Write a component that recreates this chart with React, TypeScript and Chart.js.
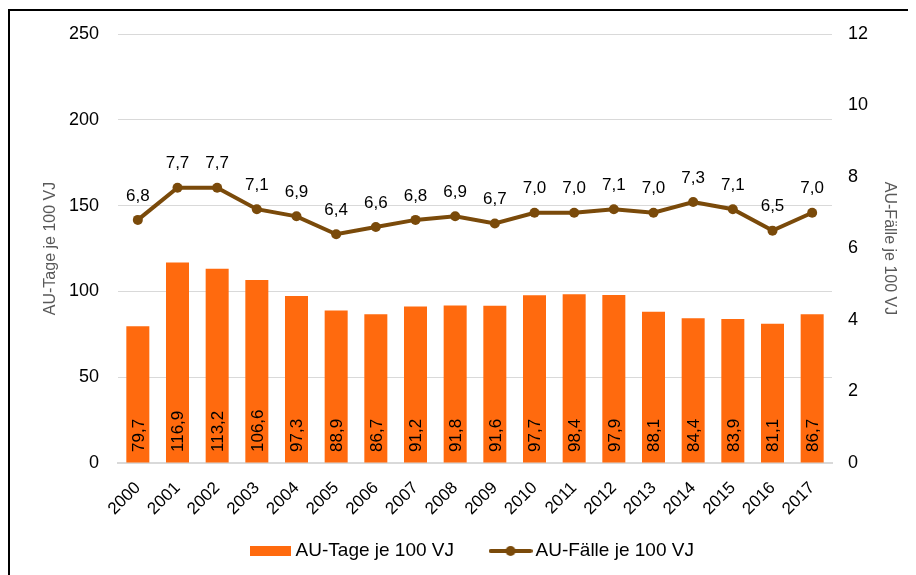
import React, { useEffect, useRef } from "react";
import { Chart, registerables } from "chart.js";

Chart.register(...registerables);

const years = ["2000","2001","2002","2003","2004","2005","2006","2007","2008","2009","2010","2011","2012","2013","2014","2015","2016","2017"];
const auTage = [79.7,116.9,113.2,106.6,97.3,88.9,86.7,91.2,91.8,91.6,97.7,98.4,97.9,88.1,84.4,83.9,81.1,86.7];
const auFaelle = [6.8,7.7,7.7,7.1,6.9,6.4,6.6,6.8,6.9,6.7,7.0,7.0,7.1,7.0,7.3,7.1,6.5,7.0];
const leftTicks = [0, 50, 100, 150, 200, 250];
const rightTicks = [0, 2, 4, 6, 8, 10, 12];
const labelTage = "AU-Tage je 100 VJ";
const labelFaelle = "AU-Fälle je 100 VJ";

const ORANGE = "#FF6A0E";
const BROWN = "#7A4A0A";
const GRID = "#D9D9D9";
const FONT = "'Liberation Sans', Arial, sans-serif";

const fmt = (v: number) => v.toFixed(1).replace(".", ",");

function makeBarIcon() {
  const c = document.createElement("canvas");
  c.width = 41; c.height = 10;
  const ctx = c.getContext("2d")!;
  ctx.fillStyle = ORANGE;
  ctx.fillRect(0, 0, 41, 10);
  return c;
}
function makeLineIcon() {
  const c = document.createElement("canvas");
  c.width = 44; c.height = 12;
  const ctx = c.getContext("2d")!;
  ctx.strokeStyle = BROWN;
  ctx.lineWidth = 4;
  ctx.lineCap = "round";
  ctx.beginPath();
  ctx.moveTo(2, 6); ctx.lineTo(42, 6); ctx.stroke();
  ctx.fillStyle = BROWN;
  ctx.beginPath(); ctx.arc(22, 6, 5, 0, Math.PI * 2); ctx.fill();
  return c;
}

// let the rotated x labels extend below the (deliberately short) x-axis box
const unclipXLabels = {
  id: "unclipXLabels",
  beforeDraw(chart: any) {
    const x = chart.scales.x;
    if (x) x.bottom = chart.height;
  },
};

const labelPlugin = {
  id: "valueLabels",
  afterDatasetsDraw(chart: any) {
    const ctx = chart.ctx;
    ctx.save();
    ctx.fillStyle = "#000";
    ctx.font = `17px ${FONT}`;
    const barMeta = chart.getDatasetMeta(0);
    const yBase = chart.scales.y.getPixelForValue(0);
    barMeta.data.forEach((el: any, i: number) => {
      ctx.save();
      ctx.translate(el.x, yBase - 11);
      ctx.rotate(-Math.PI / 2);
      ctx.textAlign = "left";
      ctx.textBaseline = "middle";
      ctx.fillText(fmt(auTage[i]), 0, 1);
      ctx.restore();
    });
    const lineMeta = chart.getDatasetMeta(1);
    ctx.textAlign = "center";
    ctx.textBaseline = "middle";
    lineMeta.data.forEach((el: any, i: number) => {
      ctx.fillText(fmt(auFaelle[i]), el.x, el.y - 24);
    });
    ctx.restore();
  },
};

export default function App() {
  const ref = useRef<HTMLCanvasElement>(null);
  useEffect(() => {
    const barIcon = makeBarIcon();
    const lineIcon = makeLineIcon();
    const chart = new Chart(ref.current!, {
      type: "bar",
      data: {
        labels: years,
        datasets: [
          {
            type: "bar",
            label: labelTage,
            data: auTage,
            backgroundColor: ORANGE,
            yAxisID: "y",
            order: 2,
            barPercentage: 0.58,
            categoryPercentage: 1,
          },
          {
            type: "line",
            label: labelFaelle,
            data: auFaelle,
            borderColor: BROWN,
            backgroundColor: BROWN,
            borderWidth: 4,
            pointRadius: 5,
            pointBackgroundColor: BROWN,
            pointBorderColor: BROWN,
            pointBorderWidth: 0,
            tension: 0,
            yAxisID: "y1",
            order: 1,
          },
        ] as any,
      },
      options: {
        responsive: false,
        animation: false,
        layout: { padding: { left: 23, right: 0, top: 23, bottom: 4.5 } },
        plugins: {
          tooltip: { enabled: false },
          legend: {
            position: "bottom",
            labels: {
              usePointStyle: true,
              pointStyleWidth: 31,
              padding: 41,
              color: "#000",
              font: { family: FONT, size: 19 },
              generateLabels: () => [
                { text: labelTage, pointStyle: barIcon, fillStyle: ORANGE, strokeStyle: ORANGE, lineWidth: 0, datasetIndex: 0, hidden: false } as any,
                { text: labelFaelle, pointStyle: lineIcon, fillStyle: BROWN, strokeStyle: BROWN, lineWidth: 0, datasetIndex: 1, hidden: false } as any,
              ],
            },
          },
        },
        scales: {
          x: {
            grid: { display: false, drawTicks: false },
            border: { display: true, color: GRID, width: 2 },
            ticks: {
              color: "#000",
              font: { family: FONT, size: 17 },
              minRotation: 45,
              maxRotation: 45,
              autoSkip: false,
              padding: 15,
            },
            afterFit: (s: any) => { s.height = 37.5; },
          },
          y: {
            position: "left",
            min: 0,
            max: 250,
            afterBuildTicks: (s: any) => { s.ticks = leftTicks.map((v) => ({ value: v })); },
            grid: { color: GRID, lineWidth: 1, drawTicks: false },
            border: { display: false },
            ticks: { color: "#000", font: { family: FONT, size: 18 }, padding: 19 },
            title: {
              display: true,
              text: labelTage,
              color: "#595959",
              font: { family: FONT, size: 16 },
              padding: { top: 8, bottom: 0 },
            },
            afterFit: (s: any) => { s.width = 85; s.paddingTop = 0; s.paddingBottom = 0; },
          },
          y1: {
            position: "right",
            min: 0,
            max: 12,
            afterBuildTicks: (s: any) => { s.ticks = rightTicks.map((v) => ({ value: v })); },
            grid: { display: false, drawTicks: false },
            border: { display: false },
            ticks: { color: "#000", font: { family: FONT, size: 18 }, padding: 16 },
            title: {
              display: true,
              text: labelFaelle,
              color: "#595959",
              font: { family: FONT, size: 16 },
              padding: { top: 17, bottom: 0 },
            },
            afterFit: (s: any) => { s.width = 84; s.paddingTop = 0; s.paddingBottom = 0; },
          },
        },
      } as any,
      plugins: [labelPlugin, unclipXLabels],
    });
    return () => chart.destroy();
  }, []);

  return (
    <div style={{ border: "2px solid #000", width: 920, height: 580, marginTop: 1, boxSizing: "content-box", background: "#fff" }}>
      <canvas ref={ref} width={906} height={564} style={{ display: "block", width: 906, height: 564 }} />
    </div>
  );
}
